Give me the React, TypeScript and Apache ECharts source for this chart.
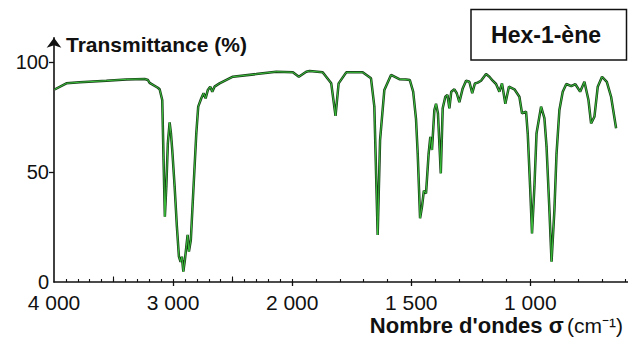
import React, { useEffect, useRef } from 'react';
import * as echarts from 'echarts';

// Wavenumbers (cm-1) and transmittance (%)
const wavenumbers = [
  3995, 3896, 3784, 3560, 3393, 3239, 3211, 3197, 3128, 3113, 3091, 3080, 3069, 3057, 3044, 3029,
  3018, 3007, 2987, 2968, 2951, 2937, 2926, 2914, 2901, 2889, 2878, 2867, 2851, 2834, 2805, 2789,
  2763, 2744, 2727, 2708, 2688, 2671, 2652, 2610, 2498, 2302, 2134, 1997, 1972, 1941, 1927, 1872,
  1836, 1818, 1805, 1773, 1704, 1669, 1655, 1641, 1631, 1613, 1585, 1550, 1522, 1506, 1492, 1480,
  1473, 1463, 1455, 1447, 1438, 1427, 1420, 1413, 1403, 1396, 1388, 1376, 1368, 1357, 1348, 1340,
  1332, 1319, 1309, 1298, 1284, 1270, 1256, 1244, 1233, 1221, 1207, 1186, 1172, 1158, 1144, 1130,
  1119, 1105, 1090, 1067, 1046, 1035, 1018, 1011, 1001, 993, 983, 974, 955, 941, 932, 920,
  911, 899, 890, 878, 864, 849, 828, 811, 791, 773, 756, 745, 731, 717, 699, 679,
  661, 640,
];
const transmittance = [
  87.5, 90.3, 90.8, 91.5, 92.1, 92.3, 91.8, 90.5, 88.3, 87.6, 82.7, 55.5, 29.7, 43.3, 63, 72.6,
  67.6, 60, 43.3, 25.1, 11.5, 9.2, 11.5, 4.7, 10, 16, 21.4, 13.8, 19.1, 37.3, 67.6, 79.7,
  83.5, 85.8, 83.5, 87.3, 88.8, 86.5, 88.8, 90.3, 93.3, 94.5, 95.6, 95.3, 93.3, 95.6, 95.9, 95.3,
  90.3, 75.5, 90.3, 95.3, 95.3, 92.6, 79.7, 21.4, 64.5, 87.3, 94.1, 92.2, 92, 91.8, 86.5, 74,
  58.5, 29, 34.2, 41.5, 40.3, 58.5, 66, 60, 78.2, 81, 76.7, 49.4, 79, 84.2, 85, 78.9,
  86.5, 87.6, 85.8, 81.7, 88, 91.5, 91, 85.8, 90.2, 90.6, 91.5, 94.5, 93.3, 91.5, 90, 86.5,
  90.3, 81, 88.8, 87.6, 84.2, 76.7, 77.4, 67.6, 43.3, 22.1, 43.3, 67.6, 79.7, 74.5, 61.5, 32.7,
  9.2, 32.7, 58.5, 78.2, 86.5, 90, 89, 89.9, 86.5, 91, 82.7, 72.1, 75.1, 88.8, 93.3, 91,
  84.2, 69.9,
];

const xTickValues = [4000, 3000, 2000, 1500, 1000];
const xTickLabels = ['4 000', '3 000', '2 000', '1 500', '1 000'];
const halfTickValues = [3500, 2500];
const yLabelValues = [0, 50, 100];
const yTickValues = [50, 100];
const axisEnd = 590;

// piecewise wavenumber scale: 1000 cm-1 per division above 2000, 500 cm-1 per division below
function toU(s: number): number {
  return s >= 2000 ? (4000 - s) / 1000 : 2 + (2000 - s) / 500;
}

const minorTickValues: number[] = [];
for (let s = 3900; s >= 600; s -= 100) minorTickValues.push(s);

const FONT = 'Liberation Sans, Arial, sans-serif';

export default function App() {
  const ref = useRef<HTMLDivElement>(null);
  useEffect(() => {
    if (!ref.current) return;
    const chart = echarts.init(ref.current, null, { renderer: 'svg' });
    const data = wavenumbers.map((s, i) => [toU(s), transmittance[i]]);
    const xMax = toU(axisEnd);
    const baseX = {
      type: 'value' as const,
      min: 0,
      max: xMax,
      position: 'bottom' as const,
      splitLine: { show: false },
    };
    chart.setOption({
      animation: false,
      backgroundColor: '#ffffff',
      grid: { left: 54, right: 0, top: 37.8, bottom: 56 },
      xAxis: [
        {
          ...baseX,
          axisLine: { show: true, onZero: false, lineStyle: { color: '#111', width: 1.6 } },
          axisTick: {
            show: true,
            inside: false,
            length: 4,
            customValues: xTickValues.slice(1).map(toU),
            lineStyle: { color: '#111', width: 1.3 },
          },
          axisLabel: {
            show: true,
            customValues: xTickValues.map(toU),
            margin: 10,
            fontSize: 21,
            fontFamily: FONT,
            color: '#111',
            showMinLabel: true,
            showMaxLabel: true,
            formatter: (v: number) => {
              const i = xTickValues.findIndex((s) => Math.abs(toU(s) - v) < 1e-6);
              return i >= 0 ? xTickLabels[i] : '';
            },
          },
        },
        {
          ...baseX,
          axisLine: { show: false, onZero: false },
          axisTick: {
            show: true,
            inside: true,
            length: 3,
            customValues: minorTickValues.map(toU),
            lineStyle: { color: '#111', width: 1.1 },
          },
          axisLabel: { show: false },
        },
        {
          ...baseX,
          axisLine: { show: false, onZero: false },
          axisTick: {
            show: true,
            inside: true,
            length: 5.5,
            customValues: halfTickValues.map(toU),
            lineStyle: { color: '#111', width: 1.1 },
          },
          axisLabel: { show: false },
        },
      ],
      yAxis: {
        type: 'value',
        min: 0,
        max: 111,
        interval: 50,
        splitLine: { show: false },
        axisLine: {
          show: true,
          onZero: false,
          symbol: ['none', 'arrow'],
          symbolSize: [11, 10],
          lineStyle: { color: '#111', width: 1.6 },
        },
        axisTick: {
          show: true,
          length: 5,
          customValues: yTickValues,
          lineStyle: { color: '#111', width: 1.3 },
        },
        axisLabel: {
          customValues: yLabelValues,
          margin: 5,
          fontSize: 20,
          fontFamily: FONT,
          color: '#111',
        },
      },
      series: [
        {
          type: 'line',
          data,
          showSymbol: false,
          lineStyle: { color: '#173d17', width: 2.5 },
          z: 2,
        },
        {
          type: 'line',
          data,
          showSymbol: false,
          lineStyle: { color: '#3fcf3f', width: 0.9 },
          z: 3,
        },
      ],
      graphic: [
        {
          type: 'text',
          x: 66,
          y: 44.5,
          style: {
            text: 'Transmittance (%)',
            fontFamily: FONT,
            fontWeight: 'bold',
            fontSize: 21,
            fill: '#111',
            align: 'left',
            verticalAlign: 'middle',
          },
        },
        {
          type: 'text',
          x: 623,
          y: 325.5,
          style: {
            text: "{b|Nombre d'ondes σ} {r|(cm⁻¹)}",
            align: 'right',
            verticalAlign: 'middle',
            rich: {
              b: { fontFamily: FONT, fontWeight: 'bold', fontSize: 22, fill: '#111' },
              r: { fontFamily: FONT, fontSize: 21, fill: '#111' },
            },
          },
        },
        {
          type: 'rect',
          shape: { x: 471, y: 9.5, width: 155.5, height: 50.5 },
          style: { fill: '#fff', stroke: '#111', lineWidth: 1.5 },
        },
        {
          type: 'text',
          x: 546,
          y: 35,
          style: {
            text: 'Hex-1-ène',
            fontFamily: FONT,
            fontWeight: 'bold',
            fontSize: 23,
            fill: '#111',
            align: 'center',
            verticalAlign: 'middle',
          },
        },
      ],
    });
    return () => chart.dispose();
  }, []);
  return (
    <div
      ref={ref}
      style={{ position: 'fixed', left: 0, top: 0, width: 628, height: 338 }}
    />
  );
}
